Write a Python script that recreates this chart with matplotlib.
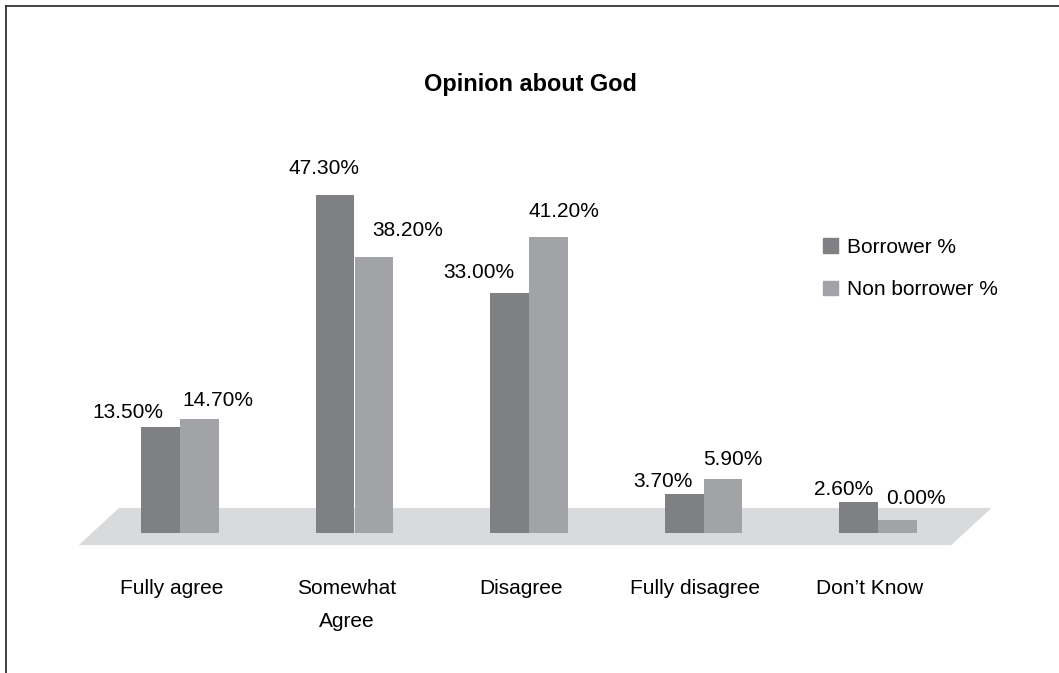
import numpy as np
import matplotlib
matplotlib.use("Agg")
import matplotlib.pyplot as plt
from matplotlib.patches import Polygon, Patch
from matplotlib.lines import Line2D

plt.rcParams['font.family'] = ['Liberation Sans', 'DejaVu Sans']

categories = ['Fully agree', 'Somewhat\nAgree', 'Disagree', 'Fully disagree', 'Don\u2019t Know']
borrower = [13.5, 47.3, 33.0, 3.7, 2.6]
non_borrower = [14.7, 38.2, 41.2, 5.9, 0.0]
series_names = ['Borrower %', 'Non borrower %']

# label nudges (pixels) - the original had hand-placed labels
dark_off = [(-33, 15), (-11, 27), (-31, 21), (-21, 13), (-15, 12)]
light_off = [(19, 18), (34, 27), (16, 25), (10, 20), (19, 21)]

c_dark = '#7f8084'
c_light = '#a2a3a6'
c_floor = '#d9dadc'

W, H = 1059, 673
fig = plt.figure(figsize=(W / 100, H / 100), dpi=100)
ax = fig.add_axes([0, 0, 1, 1])
ax.axis('off')

# map whole figure to data units
step = 174.5
x_first = 180
ppu = 6.864
y_zero = 519.7
ax.set_xlim(-x_first / step, (W - x_first) / step)
ax.set_ylim(-(H - y_zero) / ppu, y_zero / ppu)

n = len(categories)
x = np.arange(n)
w = 0.222
base = -1.9

# fake 3d floor
x0, x1 = -0.5, n - 0.5
floor = Polygon([(x0 - 0.08, -3.69), (x1 - 0.08, -3.69), (x1 + 0.15, 1.7), (x0 + 0.15, 1.7)],
                closed=True, facecolor=c_floor, edgecolor='none', zorder=1)
ax.add_patch(floor)

b1 = ax.bar(x - w / 2, np.array(borrower) - base, w, bottom=base, color=c_dark, zorder=2)
b2 = ax.bar(x + w / 2, np.array(non_borrower) - base, w, bottom=base, color=c_light, zorder=2)

fs = 15
for i in range(n):
    ax.annotate('%.2f%%' % borrower[i], (x[i] - w / 2, borrower[i]), xytext=dark_off[i],
                textcoords='offset pixels', ha='center', va='center', fontsize=fs)
    ax.annotate('%.2f%%' % non_borrower[i], (x[i] + w / 2, non_borrower[i]), xytext=light_off[i],
                textcoords='offset pixels', ha='center', va='center', fontsize=fs)
    ax.annotate(categories[i], (x[i], -8.5), xytext=(-8, -1), textcoords='offset pixels',
                ha='center', va='top', fontsize=fs, linespacing=1.95)

fig.text(530 / W, 1 - 84 / H, 'Opinion about God', ha='center', va='center',
         fontsize=16.9, fontweight='bold')

handles = [Patch(color=c_dark), Patch(color=c_light)]
fig.legend(handles, series_names, loc='upper left', bbox_to_anchor=(823 / W, 1 - 238 / H),
           frameon=False, fontsize=fs, handlelength=0.72, handleheight=0.72,
           handletextpad=0.45, labelspacing=1.12, borderpad=0, borderaxespad=0)

# border (top and left only)
fig.add_artist(Line2D([5.5 / W, 1], [1 - 5.5 / H, 1 - 5.5 / H], color='#333333', lw=1.3))
fig.add_artist(Line2D([5.5 / W, 5.5 / W], [0, 1 - 5.5 / H], color='#333333', lw=1.3))

fig.savefig('out.png', dpi=100)
